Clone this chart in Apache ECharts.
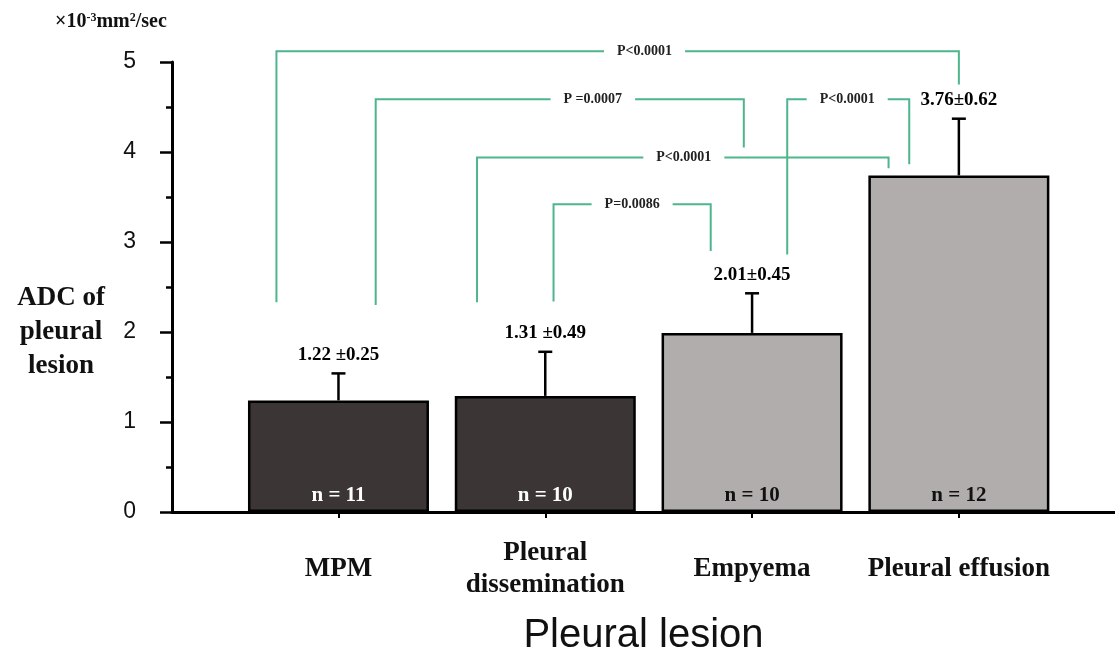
<!DOCTYPE html>
<html>
<head>
<meta charset="utf-8">
<title>ADC of pleural lesion</title>
<script src="https://cdn.jsdelivr.net/npm/echarts@6/dist/echarts.min.js"></script>
<style>
  html, body { margin: 0; padding: 0; background: #fff; }
  #main { width: 1115px; height: 661px; }
</style>
</head>
<body>
<div id="main"></div>
<script>
// groups on the x axis
const categories = ['MPM', 'Pleural\ndissemination', 'Empyema', 'Pleural effusion'];
// bar heights and tops of the SD whiskers, as drawn
const means = [1.24, 1.29, 1.99, 3.74];
const errTops = [1.54, 1.78, 2.43, 4.37];
const sdLabels = ['1.22 ±0.25', '1.31 ±0.49', '2.01±0.45', '3.76±0.62'];
const nLabels = ['n = 11', 'n = 10', 'n = 10', 'n = 12'];

// significance brackets (in axis units)
const pLabels = ['P<0.0001', 'P =0.0007', 'P<0.0001', 'P<0.0001', 'P=0.0086'];
const bracketLeft = [-0.30, 0.18, 0.67, 2.17, 1.04];
const bracketRight = [3.00, 1.96, 2.66, 2.76, 1.80];
const bracketLevel = [5.12, 4.585, 3.94, 4.585, 3.42];
const leftLegEnd = [2.33, 2.30, 2.33, 2.86, 2.34];
const rightLegEnd = [4.75, 4.05, 3.82, 3.865, 2.90];
const pLabelX = [1.48, 1.23, 1.67, 2.46, 1.42];

const darkFill = '#3b3535';
const lightFill = '#b1adac';
const green = '#4fb58c';
const serif = '"Liberation Serif", "Times New Roman", serif';

let myChart = echarts.init(document.getElementById('main'));

const option = {
  animation: false,
  grid: { left: 172, right: 0, top: 62, bottom: 141 },
  xAxis: {
    type: 'value',
    min: -0.805,
    max: 3.755,
    splitLine: { show: false },
    axisLine: { show: true, lineStyle: { color: '#000', width: 3 } },
    axisTick: { show: true, customValues: [0, 1, 2, 3], length: 6, lineStyle: { color: '#000', width: 2 } },
    axisLabel: {
      customValues: [0, 1, 2, 3],
      formatter: v => categories[Math.round(v)],
      margin: 57,
      verticalAlign: 'middle',
      lineHeight: 32,
      fontFamily: serif,
      fontWeight: 'bold',
      fontSize: 27,
      color: '#111'
    },
    name: 'Pleural lesion',
    nameLocation: 'middle',
    nameGap: 124,
    nameTextStyle: {
      fontFamily: '"Liberation Sans", Arial, sans-serif',
      fontSize: 40,
      color: '#111',
      verticalAlign: 'middle'
    }
  },
  yAxis: {
    type: 'value',
    min: 0,
    max: 5,
    interval: 1,
    splitLine: { show: false },
    axisLine: { show: true, onZero: false, lineStyle: { color: '#000', width: 3 } },
    axisTick: { show: true, length: 12, lineStyle: { color: '#000', width: 2.5 } },
    minorTick: { show: true, splitNumber: 2, length: 6, lineStyle: { color: '#000', width: 2.5 } },
    axisLabel: {
      margin: 36,
      fontFamily: '"Liberation Sans", Arial, sans-serif',
      fontSize: 23,
      color: '#111'
    }
  },
  graphic: [
    {
      type: 'text',
      x: 55,
      y: 22,
      style: {
        text: '×10{sup|-3}mm{sup|2}/sec',
        fontFamily: serif,
        fontWeight: 'bold',
        fontSize: 20,
        fill: '#111',
        verticalAlign: 'middle',
        rich: {
          sup: { fontFamily: serif, fontWeight: 'bold', fontSize: 12, verticalAlign: 'top', fill: '#111' }
        }
      }
    },
    {
      type: 'text',
      x: 61,
      y: 332,
      style: {
        text: 'ADC of\npleural\nlesion',
        fontFamily: serif,
        fontWeight: 'bold',
        fontSize: 27,
        lineHeight: 34,
        fill: '#111',
        align: 'center',
        verticalAlign: 'middle'
      }
    }
  ],
  series: [
    {
      type: 'bar',
      barWidth: 181,
      data: means.map((m, i) => ({
        value: [i, m],
        itemStyle: { color: i < 2 ? darkFill : lightFill },
        label: { color: i < 2 ? '#fff' : '#111' }
      })),
      itemStyle: { borderColor: '#000', borderWidth: 2.5 },
      label: {
        show: true,
        position: 'insideBottom',
        distance: 6,
        formatter: p => nLabels[p.dataIndex],
        fontFamily: serif,
        fontWeight: 'bold',
        fontSize: 21
      },
      z: 2
    },
    {
      // SD whiskers, upper side only
      type: 'custom',
      data: means.map((m, i) => [i, m, errTops[i]]),
      renderItem: (params, api) => {
        const base = api.coord([api.value(0), api.value(1)]);
        const top = api.coord([api.value(0), api.value(2)]);
        const st = { stroke: '#000', lineWidth: 2.5 };
        return {
          type: 'group',
          children: [
            { type: 'line', shape: { x1: base[0], y1: base[1], x2: top[0], y2: top[1] }, style: st },
            { type: 'line', shape: { x1: top[0] - 7, y1: top[1], x2: top[0] + 7, y2: top[1] }, style: st }
          ]
        };
      },
      z: 3
    },
    {
      // mean ± SD text above the whiskers
      type: 'scatter',
      symbolSize: 0,
      itemStyle: { opacity: 1 },
      data: errTops.map((t, i) => [i, t]),
      label: {
        show: true,
        position: 'top',
        distance: 9,
        formatter: p => sdLabels[p.dataIndex],
        fontFamily: serif,
        fontWeight: 'bold',
        fontSize: 19,
        color: '#000',
        opacity: 1
      },
      z: 4
    },
    {
      // significance brackets
      type: 'custom',
      data: pLabels.map((l, i) => [bracketLeft[i], bracketRight[i], bracketLevel[i], leftLegEnd[i], rightLegEnd[i], pLabelX[i]]),
      renderItem: (params, api) => {
        const x1 = api.value(0), x2 = api.value(1), y = api.value(2);
        const p1 = api.coord([x1, api.value(3)]);
        const p2 = api.coord([x1, y]);
        const p3 = api.coord([x2, y]);
        const p4 = api.coord([x2, api.value(4)]);
        const lp = api.coord([api.value(5), y]);
        return {
          type: 'group',
          children: [
            {
              type: 'polyline',
              shape: { points: [p1, p2, p3, p4] },
              style: { stroke: green, lineWidth: 2, fill: null }
            },
            {
              type: 'text',
              x: lp[0],
              y: lp[1],
              style: {
                text: pLabels[params.dataIndex],
                fontFamily: serif,
                fontWeight: 'bold',
                fontSize: 14,
                fill: '#222',
                align: 'center',
                verticalAlign: 'middle',
                backgroundColor: '#fff',
                padding: [2, 13]
              }
            }
          ]
        };
      },
      z: 5
    }
  ]
};

myChart.setOption(option);
</script>
</body>
</html>
